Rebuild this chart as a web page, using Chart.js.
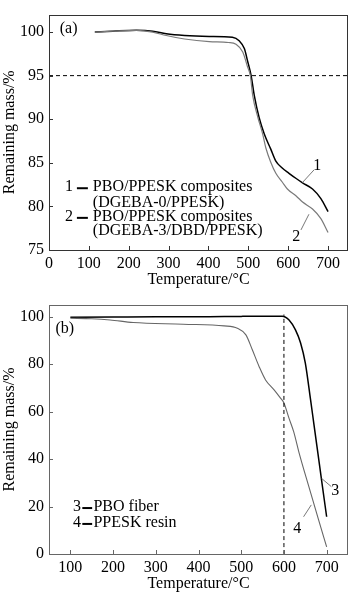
<!DOCTYPE html>
<html><head><meta charset="utf-8">
<script src="https://cdn.jsdelivr.net/npm/chart.js@4.4.1/dist/chart.umd.min.js"></script>
<style>
html,body{margin:0;padding:0;background:#fff;width:350px;height:594px;overflow:hidden}
#wa{position:absolute;left:0;top:0;width:350px;height:290px}
#wb{position:absolute;left:0;top:290px;width:350px;height:304px}
</style></head><body>
<div id="wa"><canvas id="ca"></canvas></div>
<div id="wb"><canvas id="cb"></canvas></div>
<script>
// ---- Data (a) ----
const tempA1 = [115,160,219,260,294,340,402,460,477,490,498,507,515,527,540,556,569,585,602,620,636,661,682,700];
const massA1 = [100.0,100.1,100.2,100.1,99.8,99.6,99.5,99.4,99.0,98.1,96.7,95.0,92.7,90.2,88.3,86.6,85.2,84.4,83.8,83.2,82.7,82.0,80.9,79.4];
const tempA2 = [115,160,219,260,294,340,402,450,469,486,498,505,511,524,536,544,556,569,585,598,620,636,661,682,700];
const massA2 = [100.0,100.1,100.2,100.0,99.6,99.2,98.9,98.8,98.6,97.7,96.0,95.0,92.7,90.2,88.3,86.7,85.1,83.8,82.8,82.0,81.2,80.5,79.7,78.6,77.0];
const xTicksA = [0,100,200,300,400,500,600,700];
const yTicksA = [75,80,85,90,95,100];
const refMassA = 95;
// ---- Data (b) ----
const tempB3 = [100,200,300,400,500,596,612,627,639,650,662,670,677,689,700];
const massB3 = [99.8,99.9,100,100,100.2,100.3,98.7,94.5,89,80.6,65.5,55,45.8,30,15.7];
const tempB4 = [100,150,193,247,364,460,491,511,526,542,557,577,592,600,612,623,635,658,681,700];
const massB4 = [99.4,99.2,98.7,97.6,96.9,96.2,95.2,92.4,86.1,79,73.4,69.2,65.7,63.7,57.2,51.5,43,28.6,14.5,3];
const xTicksB = [100,200,300,400,500,600,700];
const yTicksB = [0,20,40,60,80,100];
const refTempB = 600;
const refTempSpanB = [0,101];

const FONT = {family:'"Liberation Serif","Times New Roman",serif', size:16};
const pts = (xs, ys) => xs.map((x,i)=>({x:x, y:ys[i]}));

const framePlugin = {
  id:'frame',
  afterDraw(chart, args, opts){
    const ctx = chart.ctx, a = chart.chartArea, sx = chart.scales.x, sy = chart.scales.y;
    ctx.save();
    ctx.strokeStyle = opts.color; ctx.lineWidth = 1;
    ctx.beginPath();
    sx.ticks.forEach(t=>{ const p = Math.round(sx.getPixelForValue(t.value))+0.5;
      ctx.moveTo(p, a.bottom); ctx.lineTo(p, a.bottom-4); });
    sy.ticks.forEach(t=>{ const p = Math.round(sy.getPixelForValue(t.value))+0.5;
      ctx.moveTo(a.left, p); ctx.lineTo(a.left+4, p); });
    ctx.stroke();
    ctx.strokeRect(Math.round(a.left)+0.5, Math.round(a.top)+0.5, Math.round(a.right-a.left)-1, Math.round(a.bottom-a.top));
    // leaders
    ctx.strokeStyle = '#555'; ctx.lineWidth = 0.8;
    (opts.leaders||[]).forEach(l=>{ ctx.beginPath();
      ctx.moveTo(sx.getPixelForValue(l[0]), sy.getPixelForValue(l[1]));
      ctx.lineTo(sx.getPixelForValue(l[2]), sy.getPixelForValue(l[3])); ctx.stroke(); });
    // legend dashes
    ctx.strokeStyle = '#000'; ctx.lineWidth = 2;
    (opts.dashes||[]).forEach(d=>{ ctx.beginPath();
      const y = sy.getPixelForValue(d[2]) + 1;
      ctx.moveTo(sx.getPixelForValue(d[0]), y); ctx.lineTo(sx.getPixelForValue(d[1]), y); ctx.stroke(); });
    // texts
    ctx.fillStyle = '#000'; ctx.font = FONT.size+'px '+FONT.family; ctx.textBaseline='middle';
    (opts.texts||[]).forEach(t=>{ ctx.textAlign = t.align||'left';
      ctx.fillText(t.text, sx.getPixelForValue(t.x), sy.getPixelForValue(t.y)); });
    ctx.restore();
  }
};

function makeChart(id, cfg){
  return new Chart(document.getElementById(id), {
    type:'line',
    data:{datasets:cfg.datasets},
    options:{
      responsive:true, maintainAspectRatio:false, animation:false,
      layout:{padding:{top:cfg.padTop, right:2, left:0, bottom:0}},
      elements:{point:{radius:0}, line:{cubicInterpolationMode:'monotone'}},
      plugins:{legend:{display:false}, tooltip:{enabled:false}, frame:cfg.frame},
      scales:{
        x:{type:'linear', min:cfg.xmin, max:750,
          afterBuildTicks:s=>{ s.ticks = cfg.xTicks.map(v=>({value:v})); },
          afterFit:s=>{ s.height = 40; },
          grid:{display:false, drawTicks:false}, border:{display:false},
          ticks:{font:FONT, color:'#000', padding:4, maxRotation:0, autoSkip:false},
          title:{display:true, text:'Temperature/°C', font:FONT, color:'#000', padding:{top:0,bottom:1}}},
        y:{type:'linear', min:cfg.ymin, max:cfg.ymax,
          afterBuildTicks:s=>{ s.ticks = cfg.yTicks.map(v=>({value:v})); },
          afterFit:s=>{ s.width = 49; },
          grid:{display:false, drawTicks:false}, border:{display:false},
          ticks:{font:FONT, color:'#000', padding:5, autoSkip:false},
          title:{display:true, text:'Remaining mass/%', font:FONT, color:'#000', padding:{top:0,bottom:0}}}
      }
    },
    plugins:[framePlugin]
  });
}

makeChart('ca', {
  padTop:1, xmin:0, ymin:75, ymax:102, xTicks:xTicksA, yTicks:yTicksA,
  datasets:[
    {data:[{x:0,y:refMassA},{x:750,y:refMassA}], borderColor:'#000', borderWidth:1, borderDash:[4,3]},
    {data:pts(tempA2,massA2), borderColor:'#7a7a7a', borderWidth:1.2},
    {data:pts(tempA1,massA1), borderColor:'#000', borderWidth:1.5}
  ],
  frame:{color:'#333',
    leaders:[[635,82.7,665,84.2],[652,79.1,632,77.3]],
    dashes:[[70,97.5,82.2],[70,97.5,78.8]],
    texts:[
      {x:27,y:100.4,text:'(a)'},
      {x:40,y:82.2,text:'1'},{x:110,y:82.2,text:'PBO/PPESK composites'},
      {x:110,y:80.4,text:'(DGEBA-0/PPESK)'},
      {x:40,y:78.8,text:'2'},{x:110,y:78.8,text:'PBO/PPESK composites'},
      {x:110,y:77.2,text:'(DGEBA-3/DBD/PPESK)'},
      {x:673,y:84.7,text:'1',align:'center'},
      {x:620,y:76.5,text:'2',align:'center'}
    ]}
});

makeChart('cb', {
  padTop:15, xmin:50, ymin:0, ymax:105, xTicks:xTicksB, yTicks:yTicksB,
  datasets:[
    {data:refTempSpanB.map(v=>({x:refTempB,y:v})), borderColor:'#000', borderWidth:1, borderDash:[4,3]},
    {data:pts(tempB4,massB4), borderColor:'#666', borderWidth:1.1},
    {data:pts(tempB3,massB3), borderColor:'#000', borderWidth:1.5}
  ],
  frame:{color:'#666',
    leaders:[[688,31.9,711,28.4],[664,20.7,646,15.7]],
    dashes:[[128,151,19.8],[128,151,13.1]],
    texts:[
      {x:65,y:95,text:'(b)'},
      {x:106,y:19.8,text:'3'},{x:154,y:19.8,text:'PBO fiber'},
      {x:106,y:13.1,text:'4'},{x:154,y:13.1,text:'PPESK resin'},
      {x:720,y:26.6,text:'3',align:'center'},
      {x:631,y:10.8,text:'4',align:'center'}
    ]}
});
</script>
</body></html>
